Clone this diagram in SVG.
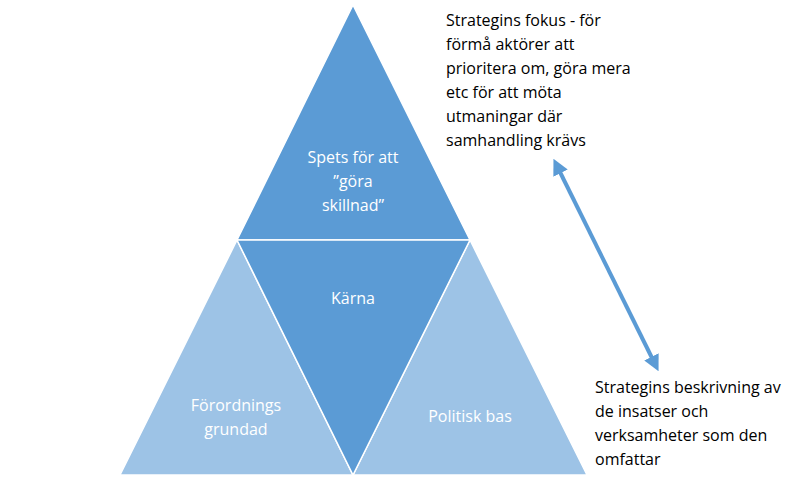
<svg xmlns="http://www.w3.org/2000/svg" width="811" height="483" viewBox="0 0 811 483">
<style>
.dk{fill:#5b9bd5;stroke:#fff;stroke-width:1.5}
.lt{fill:#9dc3e6;stroke:#fff;stroke-width:1.5}
.w{font-family:"Open Sans","Liberation Sans",sans-serif;font-size:16px;fill:#fff;text-anchor:middle}
.b{font-family:"Open Sans","Liberation Sans",sans-serif;font-size:16px;fill:#000}
</style>
<defs>
<marker id="ah" viewBox="0 0 10 10" refX="5" refY="5" markerWidth="4" markerHeight="4" orient="auto-start-reverse" markerUnits="strokeWidth">
<path d="M0,0 L10,5 L0,10 z" fill="#5b9bd5"/>
</marker>
</defs>
<rect width="811" height="483" fill="#fff"/>
<g id="left"><polygon class="lt" points="237,240 120,475 353,475"/>
<text class="w" x="236" y="411">Förordnings</text><text class="w" x="236" y="435">grundad</text></g>
<g id="right"><polygon class="lt" points="470,240 353,475 587,475"/>
<text class="w" x="470" y="422">Politisk bas</text></g>
<g id="top"><polygon class="dk" points="353,5 237,240 470,240"/>
<text class="w" x="353" y="163">Spets för att</text><text class="w" x="353" y="187">”göra</text><text class="w" x="353" y="211">skillnad”</text></g>
<g id="core"><polygon class="dk" points="237,240 470,240 353,475"/>
<text class="w" x="353" y="304">Kärna</text></g>
<g id="connectors"><line x1="557" y1="166" x2="655" y2="364" stroke="#5b9bd5" stroke-width="4" marker-start="url(#ah)" marker-end="url(#ah)"/></g>
<g id="note1"><text class="b" x="446" y="26">Strategins fokus - för</text><text class="b" x="446" y="50">förmå aktörer att</text><text class="b" x="446" y="74">prioritera om, göra mera</text><text class="b" x="446" y="98">etc för att möta</text><text class="b" x="446" y="122">utmaningar där</text><text class="b" x="446" y="146">samhandling krävs</text></g>
<g id="note2"><text class="b" x="595" y="393">Strategins beskrivning av</text><text class="b" x="595" y="417">de insatser och</text><text class="b" x="595" y="441">verksamheter som den</text><text class="b" x="595" y="465">omfattar</text></g>
</svg>
